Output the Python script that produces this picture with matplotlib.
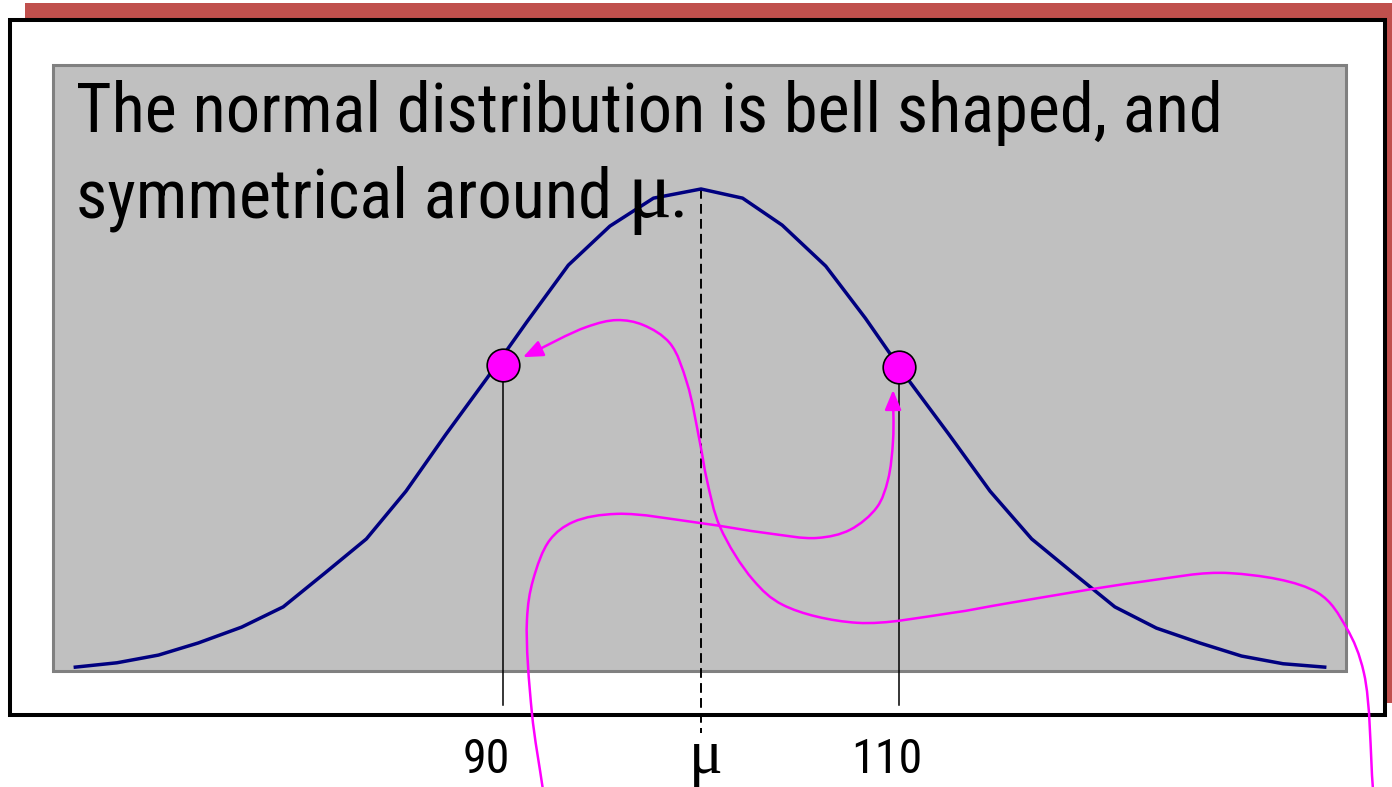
import numpy as np
import matplotlib
matplotlib.use("Agg")
import matplotlib.pyplot as plt
import matplotlib.transforms as mtransforms
from matplotlib.patches import Rectangle, FancyArrowPatch, ArrowStyle
from matplotlib.path import Path
from matplotlib import font_manager
from matplotlib.font_manager import FontProperties

# bell curve (x in value units, y relative to the peak)
curve_x = [68.4, 70.5, 72.6, 74.6, 76.8, 78.9, 81.0, 83.1, 85.1, 87.1, 89.2, 91.2,
           93.3, 95.4, 97.6, 100.0, 102.1, 104.1, 106.3, 108.3, 110.4, 112.5,
           114.6, 116.7, 118.8, 120.9, 123.0, 125.2, 127.3, 129.4, 131.5]
curve_y = [0.008, 0.017, 0.033, 0.058, 0.091, 0.133, 0.203, 0.274, 0.373, 0.490,
           0.608, 0.724, 0.842, 0.923, 0.981, 1.000, 0.981, 0.925, 0.840, 0.732,
           0.608, 0.492, 0.373, 0.274, 0.203, 0.133, 0.089, 0.058, 0.031, 0.015,
           0.008]

marker_x = [90, 110]
marker_y = [0.635, 0.631]
mu = 100
tick_pos = [90, 100, 110]
tick_labels = ["90", "\u03bc", "110"]
title_1 = "The normal distribution is bell shaped, and"
title_2 = "symmetrical around "

W, H = 1392, 787
fig = plt.figure(figsize=(W / 100, H / 100), dpi=100)
ax = fig.add_axes([0, 0, 1, 1])
ax.set_xlim(64.596, 134.899)
ax.set_ylim(-0.2407, 1.3921)
ax.axis("off")


def pick_narrow():
    names = {f.name for f in font_manager.fontManager.ttflist}
    for fam in ["Liberation Sans Narrow", "Arial Narrow", "Roboto Condensed",
                "Open Sans Condensed", "Noto Sans Condensed"]:
        if fam in names:
            return FontProperties(family=fam)
    for fam in ["Liberation Sans", "Noto Sans", "Open Sans", "Roboto", "DejaVu Sans"]:
        for st in ["condensed", "semi-condensed"]:
            fp = FontProperties(family=fam, stretch=st)
            try:
                f = font_manager.findfont(fp, fallback_to_default=False)
            except Exception:
                continue
            if "ondensed" in f or "arrow" in f:
                return fp
    return FontProperties(family="Liberation Sans")


sans = pick_narrow()
serif = ["Liberation Serif", "DejaVu Serif"]


def box(x0, y0, x1, y1, **kw):
    # frame given in picture pixels (top-left origin)
    r = Rectangle((x0 / W, 1 - y1 / H), (x1 - x0) / W, (y1 - y0) / H,
                  transform=ax.transAxes, clip_on=False, **kw)
    ax.add_patch(r)


box(25, 3, 1420, 703, facecolor="#C0504D", edgecolor="none", zorder=0)
box(10, 20, 1385, 715, facecolor="white", edgecolor="black", lw=2.9, zorder=0.1)
box(53, 65, 1346, 671, facecolor="#C0C0C0", edgecolor="#808080", lw=2.2, zorder=0.2)

# title text, sized so the first line spans the same width as in the slide
t1 = ax.text(0.0545, 1 - 132 / H, title_1, transform=ax.transAxes, fontproperties=sans,
             fontsize=53, va="baseline", ha="left", zorder=5)
fig.canvas.draw()
rend = fig.canvas.get_renderer()
fs = 53 * 1146 / t1.get_window_extent(rend).width
fs = min(fs, 54)
t1.set_fontsize(fs)
t2 = ax.text(0.0545, 1 - 217 / H, title_2, transform=ax.transAxes, fontproperties=sans,
             fontsize=fs, va="baseline", ha="left", zorder=5)
fig.canvas.draw()
bb = t2.get_window_extent(rend)
tm = ax.text(bb.x1 / W, 1 - 217 / H, "\u03bc", transform=ax.transAxes,
             family=serif, fontsize=fs * 1.2, va="baseline", ha="left", zorder=5)
fig.canvas.draw()
bm = tm.get_window_extent(rend)
ax.text(bm.x1 / W - 0.002, 1 - 217 / H, ".", transform=ax.transAxes, fontproperties=sans,
        fontsize=fs, va="baseline", ha="left", zorder=5)

ax.plot(curve_x, curve_y, color="#000080", lw=2.5, zorder=3, clip_on=False)
ax.plot([mu, mu], [1.0, -0.1286], color="black", lw=1.4, dashes=(5, 2.7),
        zorder=2, clip_on=False)
for mx, my in zip(marker_x, marker_y):
    ax.plot([mx, mx], [my, -0.0705], color="black", lw=1.1, zorder=2, clip_on=False)
ax.plot(marker_x, marker_y, "o", ms=23.5, mfc="#FF00FF", mec="black", mew=1.2,
        zorder=4, clip_on=False)

offs = [-12, 3.5, -9]
for pos, lab, dx in zip(tick_pos, tick_labels, offs):
    tr = mtransforms.offset_copy(ax.transData, fig=fig, x=dx, y=0, units="points")
    if lab == "\u03bc":
        ax.text(pos, -0.2116, lab, transform=tr, fontsize=fs * 0.92, family=serif,
                ha="center", va="baseline", zorder=5)
    else:
        ax.text(pos, -0.2116, lab, transform=tr, fontsize=fs * 0.7,
                fontproperties=sans, ha="center", va="baseline", zorder=5)


def smooth(xs, ys, alpha=0.5):
    # centripetal Catmull-Rom through the points, built as cubic Bezier pieces
    tr = ax.transData
    p = tr.transform(np.column_stack([xs, ys]))
    p = np.vstack([2 * p[0] - p[1], p, 2 * p[-1] - p[-2]])
    verts, codes = [p[1]], [Path.MOVETO]
    for i in range(1, len(p) - 2):
        p0, p1, p2, p3 = p[i - 1], p[i], p[i + 1], p[i + 2]
        d0 = max(np.hypot(*(p1 - p0)) ** alpha, 1e-6)
        d1 = max(np.hypot(*(p2 - p1)) ** alpha, 1e-6)
        d2 = max(np.hypot(*(p3 - p2)) ** alpha, 1e-6)
        m1 = d1 * ((p1 - p0) / d0 - (p2 - p0) / (d0 + d1) + (p2 - p1) / d1)
        m2 = d1 * ((p2 - p1) / d1 - (p3 - p1) / (d1 + d2) + (p3 - p2) / d2)
        verts += [p1 + m1 / 3, p2 - m2 / 3, p2]
        codes += [Path.CURVE4] * 3
    verts = tr.inverted().transform(np.array(verts))
    return Path(verts, codes)


# hand-drawn arrows pointing at the two markers
arrow_a = ([92.02, 91.46, 91.21, 91.52, 92.37, 93.54, 95.76, 99.95, 103.33,
            105.86, 107.53, 108.89, 109.44, 109.70, 109.70],
           [-0.247, -0.087, 0.106, 0.189, 0.272, 0.309, 0.326, 0.307, 0.286,
            0.276, 0.293, 0.340, 0.396, 0.479, 0.583])
arrow_b = ([133.94, 133.48, 132.58, 131.16, 126.72, 122.22, 115.56, 112.58,
            107.88, 104.14, 102.63, 100.96, 100.30, 99.95, 99.29, 98.43, 97.07,
            95.76, 94.24, 91.01],
           [-0.247, -0.004, 0.091, 0.162, 0.203, 0.185, 0.141, 0.120, 0.100,
            0.137, 0.189, 0.299, 0.396, 0.473, 0.598, 0.680, 0.718, 0.728,
            0.714, 0.651])
style = ArrowStyle("-|>", head_length=1.2, head_width=0.5)
for xs, ys in (arrow_a, arrow_b):
    patch = FancyArrowPatch(path=smooth(xs, ys), arrowstyle=style, mutation_scale=10,
                            color="#FF00FF", lw=1.8, zorder=6, clip_on=False)
    ax.add_patch(patch)

fig.savefig("out.png", dpi=100)
